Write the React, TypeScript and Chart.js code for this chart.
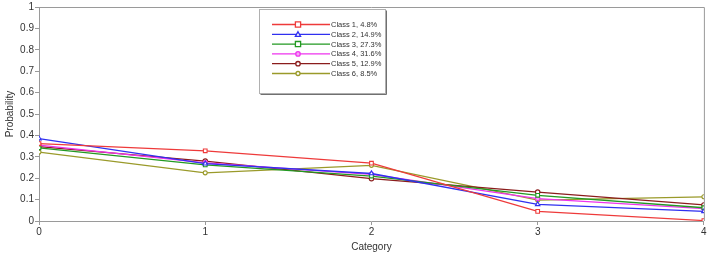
import React, { useEffect, useRef } from "react";
import { Chart, registerables } from "chart.js";

Chart.register(...registerables);

const categories = [0, 1, 2, 3, 4];
const yTicks = [0, 0.1, 0.2, 0.3, 0.4, 0.5, 0.6, 0.7, 0.8, 0.9, 1];
const classNames = ["Class 1, 4.8%", "Class 2, 14.9%", "Class 3, 27.3%", "Class 4, 31.6%", "Class 5, 12.9%", "Class 6, 8.5%"];
const class1 = [0.362, 0.328, 0.27, 0.045, 0.002];
const class2 = [0.385, 0.268, 0.222, 0.078, 0.045];
const class3 = [0.342, 0.262, 0.21, 0.12, 0.062];
const class4 = [0.355, 0.272, 0.218, 0.105, 0.058];
const class5 = [0.348, 0.28, 0.198, 0.135, 0.075];
const class6 = [0.322, 0.225, 0.26, 0.098, 0.113];
const seriesValues = [class1, class2, class3, class4, class5, class6];
const colors = ["#ee3a3a", "#3030f0", "#229922", "#ee33ee", "#8b1c1c", "#9a9a2a"];
const markers = ["rect", "triangle", "rect", "circle", "circle", "circle"];
const markerSizes = [2.6, 2.6, 2.6, 2.2, 2.2, 2.0];

const FONT = "'Liberation Sans', Arial, sans-serif";
const AXIS = "#9a9a9a";

export default function App() {
  const ref = useRef<HTMLCanvasElement | null>(null);
  useEffect(() => {
    document.body.style.margin = "0";
    const canvas = ref.current;
    if (!canvas) return;

    const framePlugin = {
      id: "frame",
      afterDraw(chart: any) {
        const { ctx, chartArea } = chart;
        ctx.save();
        ctx.strokeStyle = AXIS;
        ctx.lineWidth = 1;
        ctx.beginPath();
        ctx.moveTo(chartArea.left, chartArea.top + 0.5);
        ctx.lineTo(chartArea.right + 0.5, chartArea.top + 0.5);
        ctx.lineTo(chartArea.right + 0.5, chartArea.bottom);
        ctx.stroke();

        // legend box
        const bx = 259.5, by = 9.5, bw = 126, bh = 84;
        ctx.fillStyle = "#ffffff";
        ctx.fillRect(bx, by, bw, bh);
        ctx.strokeStyle = "#b0b0b0";
        ctx.strokeRect(bx, by, bw, bh);
        ctx.strokeStyle = "#707070";
        ctx.beginPath();
        ctx.moveTo(bx + 1, by + bh + 1);
        ctx.lineTo(bx + bw + 1, by + bh + 1);
        ctx.lineTo(bx + bw + 1, by + 1);
        ctx.stroke();

        ctx.font = `7.5px ${FONT}`;
        ctx.textBaseline = "middle";
        classNames.forEach((name, i) => {
          const y = 24.5 + i * 9.8;
          ctx.strokeStyle = colors[i];
          ctx.lineWidth = 1.3;
          ctx.beginPath();
          ctx.moveTo(272, y);
          ctx.lineTo(330, y);
          ctx.stroke();
          const r = markerSizes[i];
          ctx.fillStyle = i === 3 ? "#f7a6f7" : "#ffffff";
          ctx.beginPath();
          if (markers[i] === "rect") {
            ctx.rect(298 - r, y - r, 2 * r, 2 * r);
          } else if (markers[i] === "triangle") {
            ctx.moveTo(298, y - r);
            ctx.lineTo(298 + r, y + r * 0.8);
            ctx.lineTo(298 - r, y + r * 0.8);
            ctx.closePath();
          } else {
            ctx.arc(298, y, r, 0, Math.PI * 2);
          }
          ctx.fill();
          ctx.stroke();
          ctx.fillStyle = "#333333";
          ctx.fillText(name, 331, y + 0.5);
        });
        ctx.restore();
      },
    };

    const chart = new Chart(canvas, {
      type: "line",
      data: {
        datasets: seriesValues.map((vals, i) => ({
          label: classNames[i],
          data: vals.map((v, j) => ({ x: categories[j], y: v })),
          borderColor: colors[i],
          backgroundColor: "#ffffff",
          pointBorderColor: colors[i],
          pointBackgroundColor: i === 3 ? "#f7a6f7" : "#ffffff",
          pointStyle: markers[i] as any,
          pointRadius: markerSizes[i],
          pointBorderWidth: 1.1,
          borderWidth: 1.3,
          tension: 0,
          fill: false,
        })),
      },
      options: {
        animation: false,
        responsive: false,
        maintainAspectRatio: false,
        layout: { padding: { top: 4, right: 3, left: 4, bottom: 0 } },
        plugins: { legend: { display: false }, tooltip: { enabled: false } },
        scales: {
          x: {
            type: "linear",
            min: 0,
            max: 4,
            afterBuildTicks: (s: any) => {
              s.ticks = categories.map((v) => ({ value: v }));
            },
            afterFit: (s: any) => {
              s.height = 32;
            },
            grid: { display: true, drawOnChartArea: false, drawTicks: true, tickLength: 4, color: AXIS },
            border: { display: true, color: AXIS },
            ticks: { color: "#333333", font: { family: FONT, size: 10 }, padding: 1, maxRotation: 0, callback: (v: any) => String(v) },
            title: {
              display: true,
              text: "Category",
              color: "#333333",
              font: { family: FONT, size: 10 },
              padding: { top: 0, bottom: 0 },
            },
          },
          y: {
            type: "linear",
            min: 0,
            max: 1,
            afterBuildTicks: (s: any) => {
              s.ticks = yTicks.map((v) => ({ value: v }));
            },
            afterFit: (s: any) => {
              s.width = 35;
            },
            grid: { display: true, drawOnChartArea: false, drawTicks: true, tickLength: 4, color: AXIS },
            border: { display: true, color: AXIS },
            ticks: { color: "#333333", font: { family: FONT, size: 10 }, padding: 1, callback: (v: any) => String(v) },
            title: {
              display: true,
              text: "Probability",
              color: "#333333",
              font: { family: FONT, size: 10 },
              padding: { top: 0, bottom: 2 },
            },
          },
        },
      },
      plugins: [framePlugin],
    });
    return () => chart.destroy();
  }, []);

  return (
    <div style={{ width: 709, height: 253 }}>
      <canvas ref={ref} width={709} height={253} style={{ display: "block" }} />
    </div>
  );
}
